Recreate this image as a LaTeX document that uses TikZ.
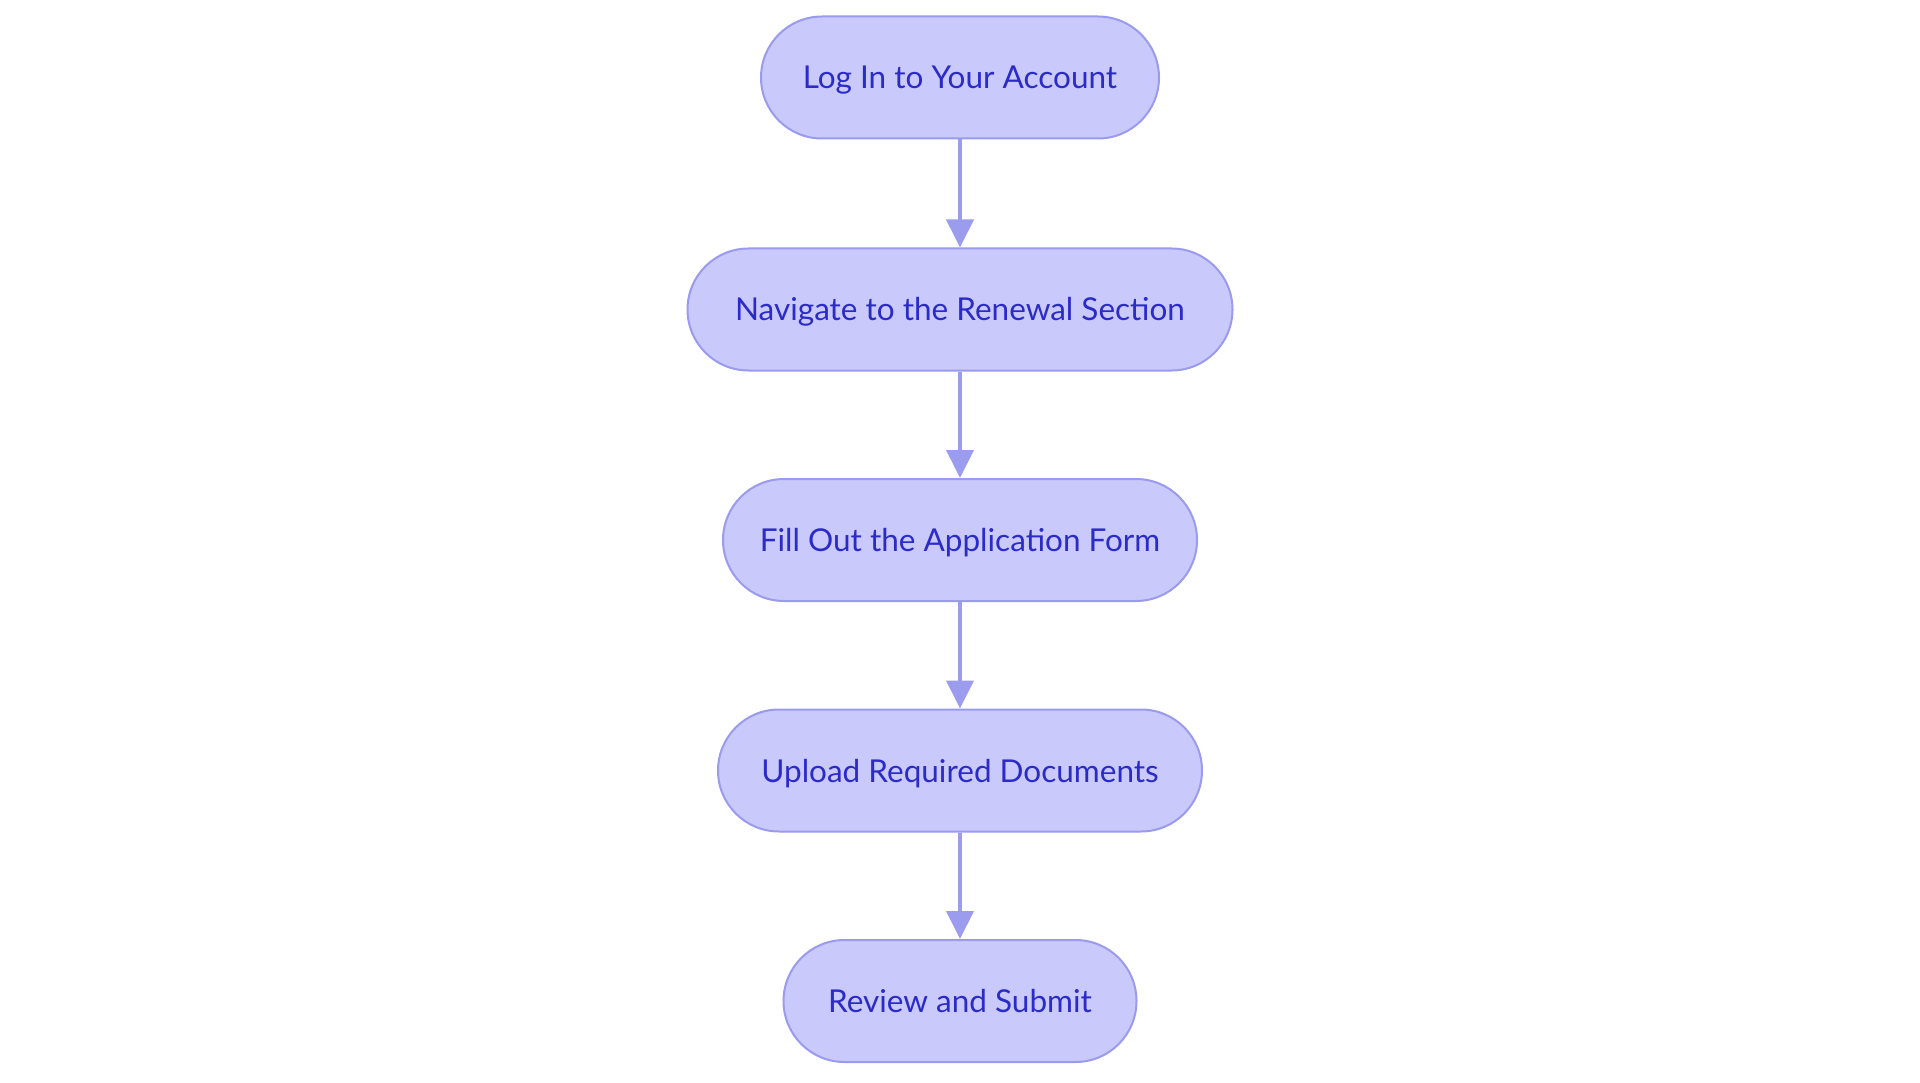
\documentclass[tikz,border=0pt]{standalone}
\usepackage{fontspec}
\setmainfont{Lato}
\usetikzlibrary{arrows.meta}
\definecolor{nodefill}{HTML}{C9C9FC}
\definecolor{nodeline}{HTML}{9A9AEE}
\definecolor{nodetext}{HTML}{2B2BC8}
\definecolor{arrowcol}{HTML}{9C9CEF}
\tikzset{
  stepbox/.style={rectangle, rounded corners=61pt, fill=nodefill, draw=nodeline, line width=2pt,
    minimum height=122pt, text=nodetext, font=\fontsize{31.5}{36}\selectfont, inner sep=0pt,
    text depth=0pt, text height=0pt},
  flow/.style={draw=arrowcol, line width=4pt, -{Triangle[length=28pt,width=27pt]}}
}
\begin{document}
\begin{tikzpicture}[x=1pt,y=-1pt]
\useasboundingbox (0,0) rectangle (1920,1083);
\tikzset{lbl/.style={text=nodetext, font=\fontsize{31.5}{36}\selectfont, inner sep=0pt, anchor=base}}
\node[stepbox, minimum width=398pt] (a) at (960,77.5) {};
\node[stepbox, minimum width=545pt] (b) at (960,309.5) {};
\node[stepbox, minimum width=474pt] (c) at (960,540) {};
\node[stepbox, minimum width=484pt] (d) at (960,770.5) {};
\node[stepbox, minimum width=353pt] (e) at (960,1001) {};
\node[lbl] (ta) at ([yshift=-11.5pt]a.center) {Log In to Your Account};
\node[lbl] (tb) at ([yshift=-11.5pt]b.center) {Navigate to the Renewal Section};
\node[lbl] (tc) at ([yshift=-11.5pt]c.center) {Fill Out the Application Form};
\node[lbl] (td) at ([yshift=-11.5pt]d.center) {Upload Required Documents};
\node[lbl] (te) at ([yshift=-11.5pt]e.center) {Review and Submit};
\draw[flow] (a) -- (b);
\draw[flow] (b) -- (c);
\draw[flow] (c) -- (d);
\draw[flow] (d) -- (e);
\end{tikzpicture}
\end{document}
